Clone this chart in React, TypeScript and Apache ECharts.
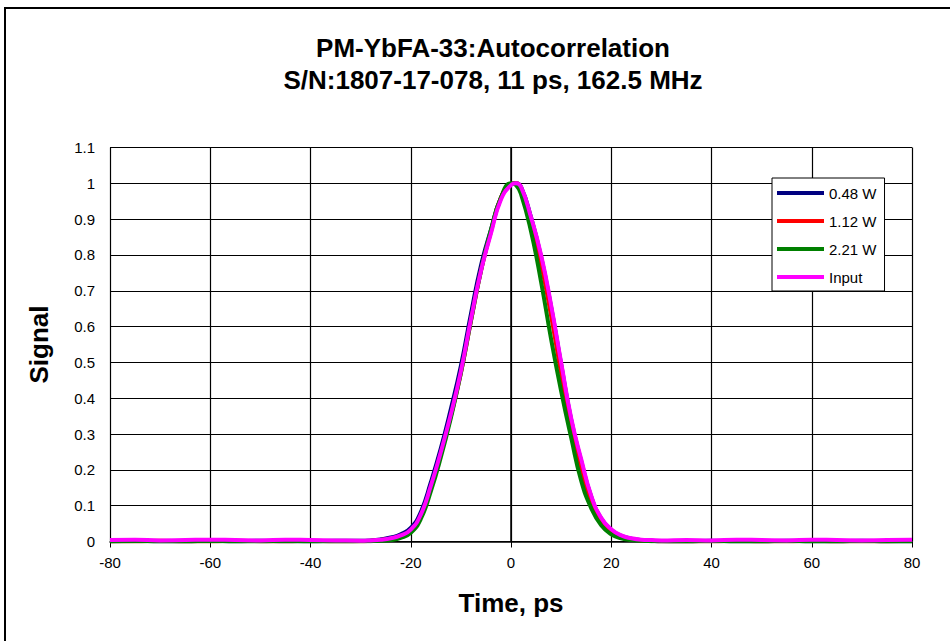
import React, { useEffect, useRef } from "react";
import * as echarts from "echarts";

const timePs = [
  -80, -75, -70, -65, -60, -55, -50, -45, -40, -35,
  -30, -28, -26, -24, -22, -20, -18, -16, -14, -12, -10, -8, -6, -4, -2, 0, 1,
  2, 4, 6, 8, 10, 12, 14, 16, 18, 20, 22, 24, 26, 28, 30,
  35, 40, 45, 50, 55, 60, 65, 70, 75, 80,
];

const w048 = [
  0.001, 0.002, 0.001, 0.001, 0.002, 0.001, 0.002, 0.001, 0.001, 0.002,
  0.002, 0.003, 0.006, 0.011, 0.02, 0.038, 0.082, 0.165, 0.26, 0.37, 0.49, 0.635, 0.77, 0.87, 0.96, 0.997, 1.0,
  0.99, 0.905, 0.795, 0.655, 0.495, 0.34, 0.225, 0.125, 0.064, 0.032, 0.016, 0.008, 0.004, 0.002, 0.001,
  0.001, 0.002, 0.001, 0.001, 0.002, 0.001, 0.001, 0.002, 0.001, 0.001,
];

const w112 = [
  0.001, 0.001, 0.002, 0.001, 0.001, 0.002, 0.001, 0.001, 0.002, 0.001,
  0.001, 0.002, 0.004, 0.008, 0.015, 0.03, 0.072, 0.15, 0.245, 0.35, 0.47, 0.615, 0.755, 0.865, 0.96, 0.998, 1.0,
  0.985, 0.89, 0.775, 0.63, 0.47, 0.32, 0.205, 0.112, 0.056, 0.027, 0.013, 0.006, 0.003, 0.002, 0.001,
  0.001, 0.001, 0.002, 0.001, 0.001, 0.002, 0.001, 0.001, 0.001, 0.002,
];

const w221 = [
  0.0, 0.001, 0.0, 0.0, 0.001, 0.0, 0.0, 0.001, 0.0, 0.0,
  0.0005, 0.001, 0.002, 0.004, 0.01, 0.024, 0.063, 0.14, 0.235, 0.345, 0.47, 0.615, 0.755, 0.87, 0.96, 1.0, 0.995,
  0.97, 0.865, 0.725, 0.565, 0.42, 0.29, 0.17, 0.093, 0.045, 0.02, 0.009, 0.004, 0.002, 0.001, 0.0005,
  0.0, 0.001, 0.0, 0.0, 0.001, 0.0, 0.0, 0.001, 0.0, 0.0,
];

const inputSig = [
  0.004, 0.005, 0.003, 0.004, 0.005, 0.004, 0.003, 0.005, 0.004, 0.003,
  0.002, 0.003, 0.005, 0.009, 0.017, 0.033, 0.075, 0.155, 0.25, 0.355, 0.475, 0.62, 0.755, 0.86, 0.955, 0.995, 1.0,
  0.99, 0.905, 0.8, 0.66, 0.5, 0.345, 0.23, 0.128, 0.066, 0.034, 0.017, 0.009, 0.005, 0.004, 0.003,
  0.004, 0.003, 0.005, 0.004, 0.003, 0.005, 0.004, 0.003, 0.004, 0.005,
];

const seriesNames = ["0.48 W", "1.12 W", "2.21 W", "Input"];
const seriesColors = ["#000080", "#ff0000", "#008000", "#ff00ff"];
const seriesValues = [w048, w112, w221, inputSig];

const titleText = "PM-YbFA-33:Autocorrelation\nS/N:1807-17-078, 11 ps, 162.5 MHz";
const FONT = "'Liberation Sans', Arial, sans-serif";

export default function App() {
  const ref = useRef<HTMLDivElement>(null);
  useEffect(() => {
    if (!ref.current) return;
    const chart = echarts.init(ref.current, null, { renderer: "svg" });
    const option = {
      animation: false,
      backgroundColor: "#ffffff",
      graphic: [
        {
          type: "rect",
          shape: { x: 5, y: 8, width: 1200, height: 1000 },
          style: { fill: "none", stroke: "#000", lineWidth: 2 },
          silent: true,
        },
      ],
      title: {
        text: titleText,
        left: 488,
        textAlign: "center",
        top: 27,
        textStyle: {
          fontFamily: FONT,
          fontSize: 26,
          fontWeight: "bold",
          color: "#000",
          lineHeight: 32,
        },
      },
      legend: {
        data: seriesNames,
        orient: "vertical",
        left: 772,
        top: 178,
        icon: "rect",
        itemWidth: 47,
        itemHeight: 4,
        itemGap: 12,
        padding: [7, 8, 6, 5],
        backgroundColor: "#ffffff",
        borderColor: "#000",
        borderWidth: 1,
        borderRadius: 0,
        textStyle: { fontFamily: FONT, fontSize: 15, color: "#000", lineHeight: 16 },
      },
      grid: { left: 110, right: 38, top: 147.5, bottom: 99.5, containLabel: false },
      xAxis: {
        type: "value",
        min: -80,
        max: 80,
        interval: 20,
        name: "Time, ps",
        nameLocation: "middle",
        nameGap: 48,
        nameTextStyle: { fontFamily: FONT, fontSize: 26, fontWeight: "bold", color: "#000" },
        axisLine: { onZero: false, lineStyle: { color: "#000", width: 1.5 } },
        axisTick: { show: true, length: 6, lineStyle: { color: "#000" } },
        axisLabel: { margin: 13, fontFamily: FONT, fontSize: 15, color: "#000" },
        splitLine: { show: true, lineStyle: { color: "#000", width: 1.2 } },
      },
      yAxis: {
        type: "value",
        min: 0,
        max: 1.1,
        interval: 0.1,
        name: "Signal",
        nameLocation: "middle",
        nameGap: 58,
        nameRotate: 90,
        nameTextStyle: { fontFamily: FONT, fontSize: 26, fontWeight: "bold", color: "#000" },
        axisLine: { show: true, lineStyle: { color: "#000", width: 1.5 } },
        axisTick: { show: true, length: 6, lineStyle: { color: "#000" } },
        axisLabel: {
          margin: 15,
          fontFamily: FONT,
          fontSize: 15,
          color: "#000",
          formatter: (v: number) => String(+v.toFixed(1)),
        },
        splitLine: { show: true, lineStyle: { color: "#000", width: 1.2 } },
      },
      series: seriesNames.map((name, i) => ({
        name,
        type: "line",
        data: timePs.map((t, j) => [t, seriesValues[i][j]]),
        showSymbol: false,
        smooth: true,
        lineStyle: { color: seriesColors[i], width: 4 },
        itemStyle: { color: seriesColors[i] },
      })),
    };
    chart.setOption(option as any);
    return () => chart.dispose();
  }, []);
  return (
    <div
      ref={ref}
      style={{ position: "fixed", left: 0, top: 0, width: 950, height: 641 }}
    />
  );
}
